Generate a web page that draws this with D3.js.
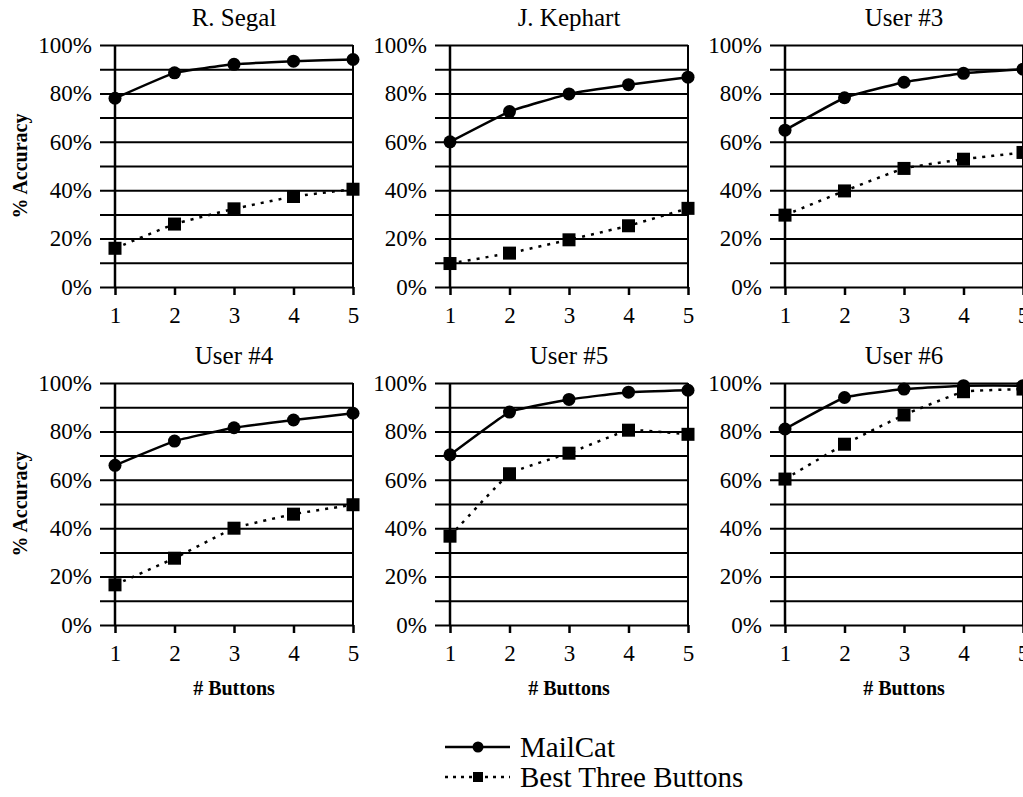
<html>
<head>
  <script src="https://d3js.org/d3.v7.min.js"></script>
  <style>
    body { margin: 0; background: white; }
    svg, svg text { font-family: "Liberation Serif", "Times New Roman", serif; }
    .grid line { stroke: black; stroke-width: 2px; }
    .xax line { stroke: black; stroke-width: 2.5px; }
    .title { font-size: 25px; }
    .axtitle { font-size: 20px; font-weight: bold; }
    .legend { font-size: 29px; }
  </style>
</head>
<body>
<svg id="chart" width="1023" height="797"></svg>
<script>
// data
const buttons = [1, 2, 3, 4, 5];
const users = ["R. Segal", "J. Kephart", "User #3", "User #4", "User #5", "User #6"];
const mailCat = [
  [78, 88.5, 92, 93.3, 94],
  [60, 72.5, 79.8, 83.6, 86.7],
  [64.8, 78.2, 84.6, 88.3, 90],
  [66, 76, 81.5, 84.7, 87.5],
  [70.3, 88, 93.2, 96.2, 97],
  [81, 94, 97.5, 98.9, 98.9]
];
const bestThree = [
  [16, 26, 32.3, 37.4, 40.4],
  [9.7, 14, 19.5, 25.3, 32.5],
  [29.7, 39.7, 49, 52.8, 55.6],
  [16.6, 27.6, 40, 45.8, 49.7],
  [36.7, 62.5, 71, 80.5, 78.8],
  [60.3, 74.7, 86.8, 96.4, 97.5]
];
const yTicks = [0, 20, 40, 60, 80, 100];
const gridTicks = d3.range(0, 101, 10);

const serif = '"Liberation Serif", "Times New Roman", serif';
const svg = d3.select("#chart");
const pw = 238, ph = 242;
const colX = [115, 450, 785];
const rowY = [45, 383];

const x = d3.scaleLinear().domain([1, 5]).range([0, pw]);
const y = d3.scaleLinear().domain([0, 100]).range([ph, 0]);
const line = d3.line().x((d, i) => x(buttons[i])).y(d => y(d)).curve(d3.curveCardinal.tension(0.7));

// d3 axes put font attrs on the group, so reset them
const serifAxis = a => {
  a.attr("font-family", serif).attr("font-size", 23);
  a.select(".domain").remove();
  a.selectAll("text").style("font-family", serif).style("font-size", "23px").attr("fill", "black");
};

users.forEach((name, k) => {
  const col = k % 3, row = Math.floor(k / 3);
  const g = svg.append("g").attr("transform", `translate(${colX[col]},${rowY[row]})`);

  // gridlines every 10%
  g.append("g").attr("class", "grid")
    .attr("transform", "translate(-15,0)")
    .call(d3.axisRight(y).tickValues(gridTicks).tickSize(pw + 15).tickFormat(""))
    .call(a => a.select(".domain").remove());

  // y labels
  g.append("g").attr("class", "ylab")
    .call(d3.axisLeft(y).tickValues(yTicks).tickSize(0).tickPadding(23).tickFormat(d => d + "%"))
    .call(serifAxis);

  // x axis ticks
  g.append("g").attr("class", "xax")
    .attr("transform", `translate(0,${ph})`)
    .call(d3.axisBottom(x).tickValues(buttons).tickSize(8).tickPadding(12).tickFormat(d3.format("d")))
    .call(serifAxis);

  // left axis and right border
  g.append("line").attr("x1", 0).attr("x2", 0).attr("y1", 0).attr("y2", ph)
    .attr("stroke", "black").attr("stroke-width", 2.5);
  g.append("line").attr("x1", pw).attr("x2", pw).attr("y1", 0).attr("y2", ph)
    .attr("stroke", "black").attr("stroke-width", 2);

  // series
  g.append("path").datum(bestThree[k]).attr("d", line)
    .attr("fill", "none").attr("stroke", "black").attr("stroke-width", 2.5)
    .attr("stroke-dasharray", "3,6");
  g.append("path").datum(mailCat[k]).attr("d", line)
    .attr("fill", "none").attr("stroke", "black").attr("stroke-width", 2.5);

  g.selectAll("rect.pt").data(bestThree[k]).join("rect").attr("class", "pt")
    .attr("x", (d, i) => x(buttons[i]) - 6.5).attr("y", d => y(d) - 6.5)
    .attr("width", 13).attr("height", 13).attr("fill", "black");
  g.selectAll("circle.pt").data(mailCat[k]).join("circle").attr("class", "pt")
    .attr("cx", (d, i) => x(buttons[i])).attr("cy", d => y(d))
    .attr("r", 6.5).attr("fill", "black");

  g.append("text").attr("class", "title")
    .attr("x", pw / 2).attr("y", -19).attr("text-anchor", "middle").text(name);

  if (row === 1) {
    g.append("text").attr("class", "axtitle")
      .attr("x", pw / 2).attr("y", ph + 70).attr("text-anchor", "middle").text("# Buttons");
  }
  if (col === 0) {
    g.append("text").attr("class", "axtitle")
      .attr("transform", `translate(-88,${ph / 2}) rotate(-90)`)
      .attr("text-anchor", "middle").text("% Accuracy");
  }
});

// legend
const legend = svg.append("g").attr("transform", "translate(445,747)");
legend.append("line").attr("x1", 0).attr("x2", 65).attr("stroke", "black").attr("stroke-width", 2.5);
legend.append("circle").attr("cx", 33).attr("r", 5.5).attr("fill", "black");
legend.append("text").attr("class", "legend").attr("x", 75).attr("y", 10).text("MailCat");
legend.append("line").attr("x1", 0).attr("x2", 65).attr("y1", 30).attr("y2", 30)
  .attr("stroke", "black").attr("stroke-width", 2.5).attr("stroke-dasharray", "3,5");
legend.append("rect").attr("x", 28).attr("y", 25).attr("width", 10).attr("height", 10).attr("fill", "black");
legend.append("text").attr("class", "legend").attr("x", 75).attr("y", 40).text("Best Three Buttons");
</script>
</body>
</html>
